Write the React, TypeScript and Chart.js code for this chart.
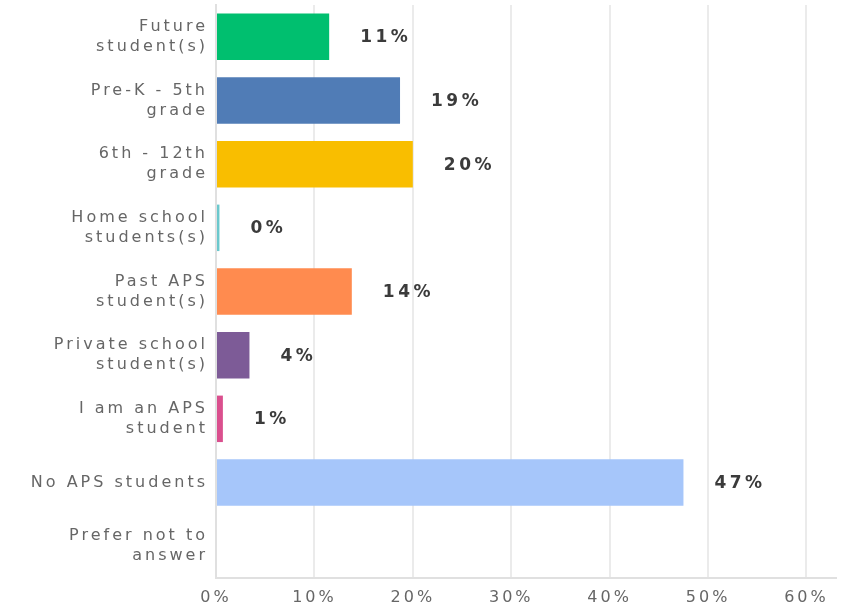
import React, { useEffect, useRef } from "react";
import { Chart, registerables } from "chart.js";

Chart.register(...registerables);

const categories: (string | string[])[] = [
  ["Future", "student(s)"],
  ["Pre-K - 5th", "grade"],
  ["6th - 12th", "grade"],
  ["Home school", "students(s)"],
  ["Past APS", "student(s)"],
  ["Private school", "student(s)"],
  ["I am an APS", "student"],
  "No APS students",
  ["Prefer not to", "answer"],
];

const values = [11.5, 18.7, 20.0, 0.35, 13.8, 3.4, 0.7, 47.5, 0];
const valueLabels = ["11%", "19%", "20%", "0%", "14%", "4%", "1%", "47%", ""];
const barColors = [
  "#00BF6F",
  "#507CB6",
  "#F9BE00",
  "#6BC8CD",
  "#FF8B4F",
  "#7D5B97",
  "#DA4F8E",
  "#A6C6FA",
  "#cccccc",
];
const xTicks = [0, 10, 20, 30, 40, 50, 60];

const spacingPlugin = {
  id: "spacing",
  beforeLayout(chart: any) {
    chart.ctx.letterSpacing = "3px";
  },
  beforeDraw(chart: any) {
    chart.ctx.letterSpacing = "3px";
  },
};

const valueLabelPlugin = {
  id: "valueLabels",
  afterDatasetsDraw(chart: any) {
    const ctx = chart.ctx;
    const meta = chart.getDatasetMeta(0);
    ctx.save();
    ctx.letterSpacing = "3.5px";
    ctx.font = "bold 17px 'DejaVu Sans'";
    ctx.fillStyle = "#3b3b3b";
    ctx.textAlign = "left";
    ctx.textBaseline = "middle";
    meta.data.forEach((bar: any, i: number) => {
      const t = valueLabels[i];
      if (!t) return;
      ctx.fillText(t, bar.x + 31, bar.y + 1);
    });
    ctx.restore();
  },
};

export default function App() {
  const ref = useRef<HTMLCanvasElement>(null);
  useEffect(() => {
    document.body.style.margin = "0";
    const chart = new Chart(ref.current as HTMLCanvasElement, {
      type: "bar",
      data: {
        labels: categories,
        datasets: [
          {
            data: values,
            backgroundColor: barColors,
            borderWidth: 0,
            categoryPercentage: 1,
            barPercentage: 0.73,
          },
        ],
      },
      options: {
        indexAxis: "y",
        animation: false,
        responsive: false,
        layout: { padding: { top: 5, right: 9, left: 0, bottom: 0 } },
        plugins: {
          legend: { display: false },
          tooltip: { enabled: false },
        },
        scales: {
          x: {
            min: 0,
            max: 63,
            afterBuildTicks(axis: any) {
              axis.ticks = xTicks.map((v) => ({ value: v }));
            },
            afterFit(scale: any) {
              scale.height = 31;
              scale.paddingLeft = 0;
              scale.paddingRight = 0;
            },
            ticks: {
              callback: (v: any) => v + "%",
              color: "#666666",
              font: { family: "'DejaVu Sans'", size: 16 },
              padding: 10,
              maxRotation: 0,
            },
            grid: {
              color: "#ebebeb",
              lineWidth: 2,
              drawTicks: false,
            },
            border: { display: true, color: "#e0e0e0", width: 2 },
          },
          y: {
            afterFit(scale: any) {
              scale.width = 216;
              scale.paddingTop = 0;
              scale.paddingBottom = 0;
            },
            ticks: {
              color: "#666666",
              font: { family: "'DejaVu Sans'", size: 16, lineHeight: 1.25 },
              padding: 8,
              autoSkip: false,
            },
            grid: { display: false, drawTicks: false },
            border: { display: true, color: "#e0e0e0", width: 2 },
          },
        },
      },
      plugins: [spacingPlugin, valueLabelPlugin],
    });
    return () => chart.destroy();
  }, []);
  return (
    <div style={{ width: 845, height: 609 }}>
      <canvas ref={ref} width={845} height={609} />
    </div>
  );
}
